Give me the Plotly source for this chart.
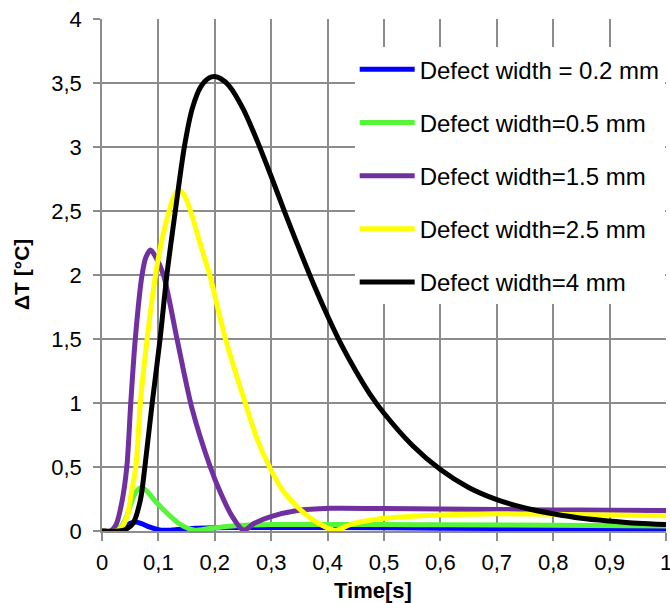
import plotly.graph_objects as go

# ---- data ----
names = ["Defect width = 0.2 mm", "Defect width=0.5 mm", "Defect width=1.5 mm",
         "Defect width=2.5 mm", "Defect width=4 mm"]
colors = ["#0000FF", "#57F53A", "#7030A0", "#FFFF00", "#000000"]

t_02 = [0, 0.03, 0.04, 0.05, 0.059, 0.07, 0.085, 0.1, 0.109, 0.13, 0.16, 0.2, 0.25, 0.3, 0.5, 0.7, 1.0]
dT_02 = [0, 0, 0.03, 0.06, 0.07, 0.058, 0.03, 0.01, 0.005, 0.01, 0.02, 0.025, 0.028, 0.028, 0.025, 0.02, 0.015]

t_05 = [0, 0.025, 0.035, 0.045, 0.055, 0.063, 0.07, 0.08, 0.093, 0.106, 0.12, 0.136, 0.15, 0.165,
        0.19, 0.22, 0.254, 0.3, 0.4, 0.5, 0.6, 0.8, 1.0]
dT_05 = [0, 0, 0.04, 0.13, 0.26, 0.32, 0.34, 0.31, 0.24, 0.18, 0.12, 0.06, 0.025, 0.006,
         0.02, 0.035, 0.045, 0.05, 0.05, 0.05, 0.048, 0.045, 0.04]

t_15 = [0, 0.015, 0.025, 0.035, 0.044, 0.051, 0.059, 0.071, 0.078, 0.086, 0.094, 0.109, 0.133,
        0.16, 0.192, 0.21, 0.23, 0.251, 0.27, 0.298, 0.346, 0.405, 0.5, 0.6, 0.7, 0.8, 0.9, 1.0]
dT_15 = [0, 0, 0.05, 0.22, 0.5, 1.0, 1.5, 2.0, 2.14, 2.195, 2.15, 2.0, 1.5,
         0.95, 0.5, 0.3, 0.12, 0.005, 0.06, 0.11, 0.16, 0.177, 0.175, 0.172, 0.168, 0.165, 0.162, 0.16]

t_25 = [0, 0.025, 0.035, 0.045, 0.052, 0.06, 0.068, 0.08, 0.095, 0.105, 0.119, 0.128, 0.136, 0.145,
        0.157, 0.175, 0.191, 0.219, 0.254, 0.275, 0.297, 0.32, 0.346, 0.37, 0.39, 0.414, 0.44,
        0.47, 0.5, 0.55, 0.6, 0.7, 0.8, 0.9, 1.0]
dT_25 = [0, 0, 0.03, 0.12, 0.3, 0.5, 1.0, 1.5, 2.0, 2.25, 2.5, 2.62, 2.66, 2.63,
         2.5, 2.23, 2.0, 1.5, 1.0, 0.72, 0.5, 0.32, 0.19, 0.1, 0.045, 0.005, 0.05,
         0.08, 0.1, 0.115, 0.125, 0.135, 0.13, 0.125, 0.12]

t_4 = [0, 0.03, 0.041, 0.055, 0.068, 0.076, 0.089, 0.103, 0.115, 0.13, 0.146, 0.16, 0.175, 0.19,
       0.2, 0.21, 0.225, 0.25, 0.275, 0.3, 0.325, 0.35, 0.375, 0.4, 0.425, 0.45, 0.475, 0.5,
       0.55, 0.6, 0.65, 0.7, 0.75, 0.8, 0.85, 0.9, 0.95, 1.0]
dT_4 = [0, 0, 0.01, 0.06, 0.24, 0.5, 1.0, 1.5, 2.0, 2.5, 3.0, 3.3, 3.47, 3.54,
        3.55, 3.535, 3.48, 3.3, 3.05, 2.77, 2.48, 2.2, 1.93, 1.68, 1.45, 1.25, 1.07, 0.92,
        0.67, 0.48, 0.34, 0.245, 0.18, 0.135, 0.1, 0.078, 0.06, 0.05]

series_t = [t_02, t_05, t_15, t_25, t_4]
series_dT = [dT_02, dT_05, dT_15, dT_25, dT_4]

x_ticks = [0, 0.1, 0.2, 0.3, 0.4, 0.5, 0.6, 0.7, 0.8, 0.9, 1]
x_tick_labels = ["0", "0,1", "0,2", "0,3", "0,4", "0,5", "0,6", "0,7", "0,8", "0,9", "1"]
y_ticks = [0, 0.5, 1, 1.5, 2, 2.5, 3, 3.5, 4]
y_tick_labels = ["0", "0,5", "1", "1,5", "2", "2,5", "3", "3,5", "4"]
x_title = "Time[s]"
y_title = "ΔT [°C]"

FONT = "Arial, Liberation Sans, sans-serif"
GRID = "#8C8C8C"

fig = go.Figure()
for i, (n, c, t, d) in enumerate(zip(names, colors, series_t, series_dT)):
    fig.add_trace(go.Scatter(
        x=t, y=d, name=n, mode="lines", legendgroup=str(i),
        line=dict(color=c, width=5, shape="spline", smoothing=0.8),
    ))

fig.update_layout(
    width=670, height=603,
    margin=dict(l=102, r=4, t=19, b=72),
    paper_bgcolor="white", plot_bgcolor="white",
    font=dict(family=FONT, color="black"),
    showlegend=True,
    legend=dict(
        x=0.448, xanchor="left", y=0.945, yanchor="top",
        bgcolor="white", borderwidth=0,
        font=dict(size=24, family=FONT, color="black"),
        traceorder="grouped", tracegroupgap=19, itemwidth=55,
    ),
    annotations=[
        dict(text="<b>" + x_title + "</b>", xref="paper", yref="paper",
             x=0.481, y=0, yshift=-59, xanchor="center", yanchor="middle",
             showarrow=False, font=dict(size=22, family=FONT, color="black")),
        dict(text="<b>" + y_title + "</b>", xref="paper", yref="paper",
             x=0, xshift=-81, y=0.5, xanchor="center", yanchor="middle", textangle=-90,
             showarrow=False, font=dict(size=21, family=FONT, color="black")),
    ],
)
fig.update_xaxes(
    range=[0, 1], tickvals=x_ticks, ticktext=x_tick_labels, automargin=False,
    ticklabeloverflow="allow",
    showgrid=True, gridcolor=GRID, gridwidth=1.5,
    showline=True, linecolor=GRID, linewidth=1.5,
    ticks="outside", ticklen=8, tickcolor=GRID, tickwidth=1.5, ticklabelstandoff=3,
    tickfont=dict(size=22, family=FONT, color="black"),
    zeroline=False,
)
fig.update_yaxes(
    range=[0, 4], tickvals=y_ticks, ticktext=y_tick_labels, automargin=False,
    ticklabeloverflow="allow",
    showgrid=True, gridcolor=GRID, gridwidth=1.5,
    showline=True, linecolor=GRID, linewidth=1.5,
    ticks="outside", ticklen=7, tickcolor=GRID, tickwidth=1.5, ticklabelstandoff=7,
    tickfont=dict(size=22, family=FONT, color="black"),
    zeroline=False,
)

# remove the default page margin so the 670x603 figure fills the window exactly
fig.write_html(
    "out.html",
    config={"displayModeBar": False},
    post_script="document.body.style.margin='0';document.body.style.overflow='hidden';",
)
